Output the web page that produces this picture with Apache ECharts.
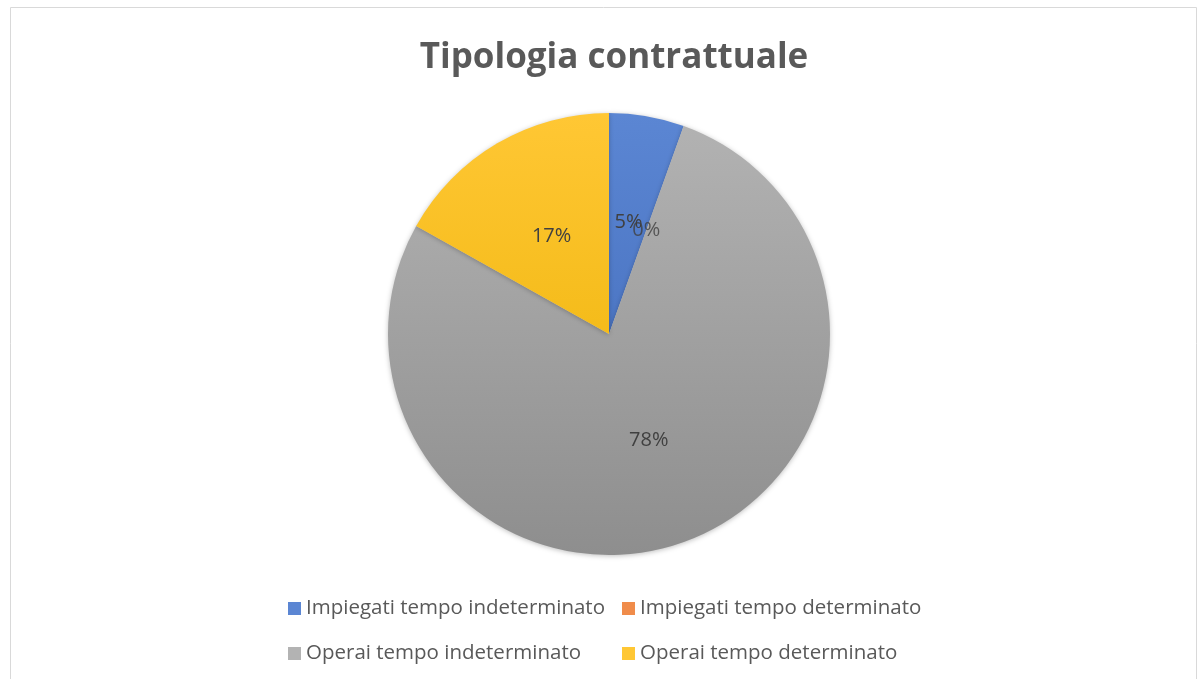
<!DOCTYPE html>
<html>
<head>
<meta charset="utf-8">
<script src="https://cdn.jsdelivr.net/npm/echarts@6/dist/echarts.min.js"></script>
<style>
  html, body { margin: 0; padding: 0; background: #fff; }
  #mychart { width: 1198px; height: 679px; }
</style>
</head>
<body>
<div id="mychart"></div>
<script>
// categorie e valori
const categories = [
  "Impiegati tempo indeterminato",
  "Impiegati tempo determinato",
  "Operai tempo indeterminato",
  "Operai tempo determinato"
];
const values = [13, 0, 184, 40];
const colorTop = ["#5b86d3", "#f08c4a", "#b3b3b3", "#ffc734"];
const colorBottom = ["#3d66b5", "#d96b22", "#8e8e8e", "#eab000"];

const total = values.reduce((a, b) => a + b, 0);

// gradiente verticale su tutta la torta
function grad(i) {
  return new echarts.graphic.LinearGradient(0, 114, 0, 555, [
    { offset: 0, color: colorTop[i] },
    { offset: 1, color: colorBottom[i] }
  ], true);
}

const pieData = categories.map((name, i) => ({
  name: name,
  value: values[i],
  itemStyle: { color: grad(i) }
}));

// ECharts non mostra l'etichetta di una fetta a zero: la disegno su un asse polare
// allineato alla torta (angolo = somma cumulata, raggio = metà)
const zeroLabels = [];
let cum = 0;
values.forEach(v => {
  if (v === 0) zeroLabels.push([0.5, cum]);
  cum += v;
});

const legendText = { color: "#595959", fontSize: 20.5, fontFamily: "Open Sans" };

const option = {
  animation: false,
  color: ["#4472C4", "#ED7D31", "#A5A5A5", "#FFC000"],
  title: {
    text: "Tipologia contrattuale",
    left: 609,
    textAlign: "center",
    top: 36,
    textStyle: { color: "#595959", fontSize: 35, fontWeight: "bold", fontFamily: "Open Sans" }
  },
  graphic: [
    {
      type: "rect",
      shape: { x: 10.5, y: 7.5, width: 1186, height: 700 },
      style: { fill: "none", stroke: "#d9d9d9", lineWidth: 1 },
      silent: true
    }
  ],
  polar: { center: [609, 334], radius: 221 },
  angleAxis: {
    type: "value", min: 0, max: total, startAngle: 90, clockwise: true,
    show: false
  },
  radiusAxis: { type: "value", min: 0, max: 1, show: false },
  legend: [
    {
      data: [categories[0], categories[2]],
      orient: "vertical",
      left: 283,
      top: 593,
      itemWidth: 13,
      itemHeight: 13,
      itemGap: 24,
      icon: "rect",
      textStyle: legendText
    },
    {
      data: [categories[1], categories[3]],
      orient: "vertical",
      left: 617,
      top: 593,
      itemWidth: 13,
      itemHeight: 13,
      itemGap: 24,
      icon: "rect",
      textStyle: legendText
    }
  ],
  series: [
    {
      type: "pie",
      center: [609, 334],
      radius: 221,
      startAngle: 90,
      clockwise: true,
      data: pieData,
      itemStyle: {
        shadowBlur: 5,
        shadowColor: "rgba(0,0,0,0.25)",
        shadowOffsetY: 1
      },
      label: {
        show: true,
        position: "inside",
        color: "#404040",
        fontSize: 20,
        fontFamily: "Open Sans",
        formatter: p => Math.round(p.percent) + "%"
      },
      labelLine: { show: false },
      emphasis: { disabled: true }
    },
    {
      type: "scatter",
      coordinateSystem: "polar",
      data: zeroLabels,
      symbolSize: 0,
      silent: true,
      z: 5,
      label: {
        show: true,
        position: "inside",
        color: "#404040",
        fontSize: 20,
        fontFamily: "Open Sans",
        formatter: "0%"
      }
    }
  ]
};

const myChart = echarts.init(document.getElementById("mychart"));
myChart.setOption(option);
</script>
</body>
</html>
